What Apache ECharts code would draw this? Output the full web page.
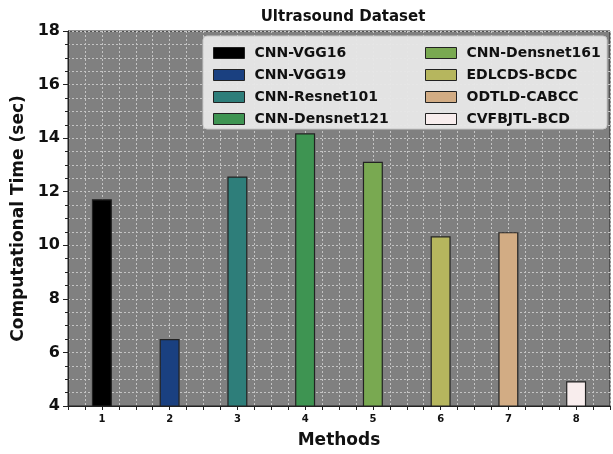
<!DOCTYPE html>
<html>
<head>
<meta charset="utf-8">
<script src="https://cdn.jsdelivr.net/npm/echarts@6/dist/echarts.min.js"></script>
<style>html,body{margin:0;padding:0;background:#fff;}#c{width:613px;height:454px;}</style>
</head>
<body>
<div id="c"></div>
<script>
const methods = [1, 2, 3, 4, 5, 6, 7, 8];
const seriesNames = ['CNN-VGG16', 'CNN-VGG19', 'CNN-Resnet101', 'CNN-Densnet121', 'CNN-Densnet161', 'EDLCDS-BCDC', 'ODTLD-CABCC', 'CVFBJTL-BCD'];
const times = [11.72, 6.5, 12.57, 14.18, 13.12, 10.34, 10.49, 4.92];
const colors = ['#000000', '#1a4080', '#2e7e7a', '#3e9452', '#79a951', '#b6b65e', '#d2ac84', '#f8eded'];
const yTicks = [4, 6, 8, 10, 12, 14, 16, 18];

const F = 'DejaVu Sans';
const chart = echarts.init(document.getElementById('c'), null, {renderer: 'canvas'});

const series = seriesNames.map((name, i) => ({
  name: name,
  type: 'bar',
  barWidth: 20,
  barGap: '-100%',
  data: [[methods[i], times[i]]],
  itemStyle: {color: colors[i], borderColor: '#222', borderWidth: 1.2},
  z: 3
}));

const legendCommon = {
  orient: 'vertical',
  itemWidth: 31,
  itemHeight: 11,
  itemGap: 8,
  icon: 'rect',
  textStyle: {fontFamily: F, fontWeight: 'bold', fontSize: 14, color: '#111', padding: [0, 0, 0, 5]},
  itemStyle: {borderColor: '#222', borderWidth: 1},
  z: 10
};

chart.setOption({
  animation: false,
  backgroundColor: '#ffffff',
  title: {
    text: 'Ultrasound Dataset',
    left: 338, top: 5, textAlign: 'center',
    textStyle: {fontFamily: F, fontWeight: 'bold', fontSize: 15, color: '#111'}
  },
  grid: {
    left: 68, top: 31, bottom: 46, right: -3,
    show: true, backgroundColor: '#808080', borderColor: '#222', borderWidth: 1
  },
  legend: [
    Object.assign({}, legendCommon, {data: seriesNames.slice(0, 4), left: 208, top: 41}),
    Object.assign({}, legendCommon, {data: seriesNames.slice(4), left: 420, top: 41})
  ],
  graphic: [{
    type: 'rect', z: 5,
    shape: {x: 203, y: 36, width: 404, height: 93, r: 4},
    style: {fill: 'rgba(232,232,232,0.95)', stroke: '#c8c8c8', lineWidth: 1}
  }],
  xAxis: {
    type: 'value', min: 0.5, max: 8.5, interval: 0.25,
    name: 'Methods', nameLocation: 'middle', nameGap: 26,
    nameTextStyle: {fontFamily: F, fontWeight: 'bold', fontSize: 17, color: '#111'},
    axisLine: {show: true, lineStyle: {color: '#222', width: 1}},
    axisTick: {show: true, length: 4, lineStyle: {color: '#222'}},
    axisLabel: {
      fontFamily: F, fontWeight: 'bold', fontSize: 10, color: '#111', margin: 8,
      formatter: v => (Math.abs(v - Math.round(v)) < 1e-6 && methods.indexOf(Math.round(v)) >= 0) ? String(Math.round(v)) : ''
    },
    splitLine: {show: true, lineStyle: {color: '#c4c4c4', type: [2, 2], width: 1}}
  },
  yAxis: {
    type: 'value', min: 4, max: 18, interval: 2,
    name: 'Computational Time (sec)', nameLocation: 'middle', nameGap: 41,
    nameTextStyle: {fontFamily: F, fontWeight: 'bold', fontSize: 17, color: '#111'},
    axisLine: {show: true, lineStyle: {color: '#222', width: 1}},
    axisTick: {show: true, length: 5, lineStyle: {color: '#222'}},
    minorTick: {show: true, splitNumber: 4, length: 3, lineStyle: {color: '#222'}},
    axisLabel: {
      fontFamily: F, fontWeight: 'bold', fontSize: 16, color: '#111', margin: 8,
      formatter: v => yTicks.indexOf(v) >= 0 ? String(v) : ''
    },
    splitLine: {show: true, lineStyle: {color: '#c4c4c4', type: [2, 2], width: 1}},
    minorSplitLine: {show: true, lineStyle: {color: '#c4c4c4', type: [2, 2], width: 1}}
  },
  series: series
});
</script>
</body>
</html>
